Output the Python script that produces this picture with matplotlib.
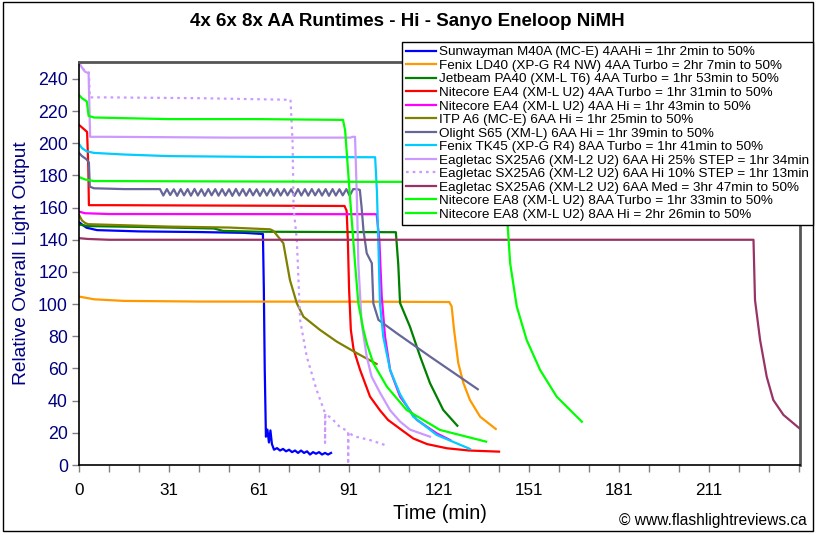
import matplotlib
matplotlib.use("Agg")
import matplotlib.pyplot as plt
from matplotlib.patches import Rectangle

plt.rcParams['font.family'] = ['Liberation Sans', 'DejaVu Sans']

# ---------------- data (time in minutes, relative output) ----------------
labels = [
    "Sunwayman M40A (MC-E) 4AAHi = 1hr 2min to 50%",
    "Fenix LD40 (XP-G R4 NW) 4AA Turbo = 2hr 7min to 50%",
    "Jetbeam PA40 (XM-L T6) 4AA Turbo = 1hr 53min to 50%",
    "Nitecore EA4 (XM-L U2) 4AA Turbo = 1hr 31min to 50%",
    "Nitecore EA4 (XM-L U2) 4AA Hi = 1hr 43min to 50%",
    "ITP A6 (MC-E) 6AA Hi = 1hr 25min to 50%",
    "Olight S65 (XM-L) 6AA Hi = 1hr 39min to 50%",
    "Fenix TK45 (XP-G R4) 8AA Turbo = 1hr 41min to 50%",
    "Eagletac SX25A6 (XM-L2 U2) 6AA Hi 25% STEP = 1hr 34min",
    "Eagletac SX25A6 (XM-L2 U2) 6AA Hi 10% STEP = 1hr 13min",
    "Eagletac SX25A6 (XM-L2 U2) 6AA Med = 3hr 47min to 50%",
    "Nitecore EA8 (XM-L U2) 8AA Turbo = 1hr 33min to 50%",
    "Nitecore EA8 (XM-L U2) 8AA Hi = 2hr 26min to 50%",
]

sunwayman_t = [0, 1, 2.5, 6, 20, 40, 55, 61.3, 61.6, 61.9, 62.3, 62.8, 63.3, 63.8, 64.3, 65, 66, 67, 68,
               69, 70, 71, 72, 73, 74, 75, 76, 77, 78, 79, 80, 81, 82, 83, 84]
sunwayman_y = [151, 149.5, 147.5, 146, 145.2, 144.8, 144.3, 143.6, 110, 60, 17.6, 22, 14, 21.5, 13, 9.5, 10.5, 9, 10,
               8.5, 9.5, 8, 9, 7.5, 9, 7.5, 8.5, 6.5, 8, 7, 8, 6.5, 7.5, 6.5, 7.5]

ld40_t = [0, 5, 15, 40, 100, 123.4, 124.2, 125, 126.4, 128.1, 130.3, 133.7, 138.9]
ld40_y = [104.7, 103, 102, 101.6, 101.5, 101.3, 98.5, 84, 63.4, 51, 40.4, 30, 22.4]

pa40_t = [0, 3, 20, 45, 48, 60, 105.6, 106.4, 107, 110.3, 113.7, 117, 121.4, 126.1]
pa40_y = [149.5, 148.5, 148, 147, 145.5, 145, 144.7, 125, 100.7, 86, 67.4, 50.8, 34.2, 24.4]

ea4_turbo_t = [0, 1.5, 2.7, 3.1, 3.3, 10, 88.5, 89.2, 89.6, 90, 90.6, 91.5, 93.7, 97, 100.3, 103, 107,
               111.4, 116, 122.6, 130, 140]
ea4_turbo_y = [211.4, 209, 207, 185, 161.5, 161.5, 161, 158, 140, 110, 84, 72, 59, 42.5, 34, 28, 22.5,
               16.5, 13, 10.4, 9, 8.3]

ea4_hi_t = [0, 2, 10, 99.2, 100.1, 100.9, 102, 103.7, 107, 112.6, 119.2, 123.7]
ea4_hi_y = [157.5, 156.5, 156, 155.9, 140, 104.7, 79.8, 59, 42.5, 28, 19.7, 15.5]

itp_t = [0, 1, 2, 3, 30, 50, 63.7, 64.8, 68.1, 70.3, 72.6, 74.8, 80.3, 85.9, 92.6, 99.2]
itp_y = [155.5, 152, 150.5, 149.7, 148.2, 147.6, 146.5, 145.5, 137.9, 115, 100.5, 92.2, 84, 76.7, 69.5, 62.8]

s65_t = [0, 1, 2.5, 3.3, 3.6, 5, 15,
         27.0, 28.1, 29.3, 30.4, 31.6, 32.7, 33.9, 35.0, 36.2, 37.3, 38.5, 39.6, 40.8, 41.9, 43.1, 44.2,
         45.4, 46.5, 47.7, 48.8, 50.0, 51.1, 52.3, 53.4, 54.6, 55.7, 56.9, 58.0, 59.2, 60.3, 61.5, 62.6,
         63.8, 64.9, 66.1, 67.2, 68.4, 69.5, 70.7, 71.8, 73.0, 74.1, 75.3, 76.4, 77.6, 78.7, 79.9, 81.0,
         82.2, 83.3, 84.5, 85.6, 86.8, 87.9, 89.1, 90.2, 91.4,
         92.6, 93.6, 94.2, 94.8, 95.9, 97.6, 98.1, 99.8, 105.9, 117, 132.9]
s65_y = [194, 192, 190, 188, 173, 172, 171.5,
         171.5, 167.5, 171.5, 167.8, 171.4, 167.3, 171.5, 167.6, 171.5, 167.4, 171.6, 167.5, 171.4, 167.3,
         171.5, 167.6, 171.5, 167.4, 171.5, 167.5, 171.4, 167.3, 171.6, 167.5, 171.5, 167.4, 171.5, 167.6,
         171.4, 167.3, 171.5, 167.5, 171.5, 167.4, 171.6, 167.5, 171.5, 167.6, 171.4, 167.3, 171.5, 167.5,
         171.5, 167.4, 171.5, 167.6, 171.4, 167.5, 171.5, 167.3, 171.5, 167.5, 171.4, 167.6, 171.5, 167.4,
         171.5,
         171.5, 171, 160, 146, 131.6, 125.4, 100.5, 90.2, 81.9, 67.4, 47.1]

tk45_t = [0, 1, 2.5, 5, 15, 30, 60, 98.7, 99.3, 99.8, 100.3, 101.4, 103.7, 107, 111.4, 119.2, 130.3]
tk45_y = [199.5, 197, 195, 194, 193, 192, 191.5, 191.3, 170, 135.8, 100.5, 79.8, 59, 44, 30, 18.7, 10]

sx25_step25_t = [0, 1, 2, 3.2, 3.5, 3.7, 10, 50, 90.5, 91.2, 92, 92.6, 93.1, 94.2, 95.9, 97.5, 100.3,
                 103.7, 107, 110.3, 117]
sx25_step25_y = [250, 247, 244.5, 243.5, 220, 204, 204, 203.5, 203.5, 204, 204, 167, 125.4, 88.1, 67.4, 55, 45,
                 34, 27, 22, 17.6]

sx25_step10_t = [0, 1, 2, 3.3, 3.6, 10, 40, 70.5, 71.2, 71.5, 72.6, 73.7, 75.9, 79.2, 82, 82, 82.1, 84.7,
                 87, 89.7, 89.7, 89.8, 91, 92.7, 97, 103]
sx25_step10_y = [250, 247, 245, 244, 228.5, 228.5, 228, 227, 200, 160, 140, 90, 67.4, 46.6, 32.3, 13.7, 32, 28,
                 23.5, 21, 0.5, 20.5, 18.7, 17.4, 15.5, 11.8]

sx25_med_t = [0, 3, 10, 224.8, 225.3, 227, 229.2, 231.4, 234.8, 240.1]
sx25_med_y = [141, 140.5, 140, 140, 102.6, 77.7, 54.9, 40.4, 31.1, 22.8]

ea8_turbo_t = [0, 1, 2.6, 3.2, 5, 30, 60, 88, 88.7, 90.3, 92, 93.1, 94.8, 96, 98.1, 102.6, 109.2, 120.3, 135.7]
ea8_turbo_y = [230, 228, 226, 217, 216, 215, 215, 214.5, 208, 167, 125.4, 100.5, 84, 75, 63.2, 48.7, 34.2, 21.8, 14.5]

ea8_hi_t = [0, 2, 5, 40, 100, 142.3, 142.6, 143.7, 145.9, 149.2, 153.7, 159.2, 167.6]
ea8_hi_y = [179, 177.5, 176.5, 176.3, 176, 176, 156.5, 125.4, 98.5, 77.7, 59, 42.5, 26.9]

series_t = [sunwayman_t, ld40_t, pa40_t, ea4_turbo_t, ea4_hi_t, itp_t, s65_t, tk45_t,
            sx25_step25_t, sx25_step10_t, sx25_med_t, ea8_turbo_t, ea8_hi_t]
series_y = [sunwayman_y, ld40_y, pa40_y, ea4_turbo_y, ea4_hi_y, itp_y, s65_y, tk45_y,
            sx25_step25_y, sx25_step10_y, sx25_med_y, ea8_turbo_y, ea8_hi_y]

colors = ["#0000FF", "#FF9900", "#008000", "#FF0000", "#FF00FF", "#808000", "#666699", "#00CCFF",
          "#CC99FF", "#CC99FF", "#993366", "#00FF00", "#00FF00"]
styles = ["-"] * 9 + [(0, (1.2, 1.8))] + ["-"] * 3

x_tick_pos = [0, 30, 60, 90, 120, 150, 180, 210]
x_tick_labels = ["0", "31", "61", "91", "121", "151", "181", "211"]
y_ticks = [0, 20, 40, 60, 80, 100, 120, 140, 160, 180, 200, 220, 240]

# ---------------- figure ----------------
W, H = 817, 535
fig = plt.figure(figsize=(W / 100, H / 100), dpi=100)
fig.patch.set_facecolor("white")
ax = fig.add_axes([79 / W, 1 - 465 / H, (800 - 79) / W, (465 - 62) / H])

lines = []
for t, y, c, ls, lab in zip(series_t, series_y, colors, styles, labels):
    ln, = ax.plot(t, y, color=c, lw=1.6, linestyle=ls, label=lab, solid_joinstyle="round")
    lines.append(ln)

ax.set_xlim(0, 240.3)
ax.set_ylim(0, 250.5)
navy = "#000080"
ax.set_yticks(y_ticks)
ax.set_yticklabels([str(v) for v in y_ticks], color=navy, fontsize=12.8)
ax.set_xticks(x_tick_pos)
ax.set_xticklabels(x_tick_labels, fontsize=12.3)
ax.set_xticks(list(range(0, 241, 10)), minor=True)
ax.tick_params(axis="y", direction="out", length=5, width=1, color="#808080", pad=3)
ax.tick_params(axis="x", which="both", direction="out", length=5, width=1, color="#808080", pad=8)

for side in ["left", "bottom"]:
    ax.spines[side].set_color("black")
    ax.spines[side].set_linewidth(1.2)
for side in ["top", "right"]:
    ax.spines[side].set_color("#555555")
    ax.spines[side].set_linewidth(2)

ax.set_ylabel("Relative Overall Light Output", color=navy, fontsize=13.8, labelpad=6)
ax.set_xlabel("Time (min)", fontsize=14.2, labelpad=4)

fig.text(407 / W, 1 - 22 / H, "4x 6x 8x AA Runtimes - Hi - Sanyo Eneloop NiMH",
         ha="center", va="center", fontsize=13.5, fontweight="bold")
fig.text(807 / W, 1 - 520 / H, "\u00a9 www.flashlightreviews.ca", ha="right", va="center", fontsize=11.2)

leg = fig.legend(handles=lines, loc="upper left", bbox_to_anchor=(402 / W, 1 - 42 / H),
                 fontsize=9.7, frameon=True, fancybox=False, shadow=False,
                 borderpad=0.3, labelspacing=0.08, handlelength=2.2, handletextpad=0.25,
                 borderaxespad=0)
leg.get_frame().set_edgecolor("black")
leg.get_frame().set_linewidth(1)
leg.get_frame().set_alpha(1)

fig.add_artist(Rectangle((3 / W, 1 - 531 / H), (813 - 3) / W, (531 - 2) / H, transform=fig.transFigure,
                         fill=False, edgecolor="black", linewidth=1))

fig.savefig("out.png", dpi=100)
